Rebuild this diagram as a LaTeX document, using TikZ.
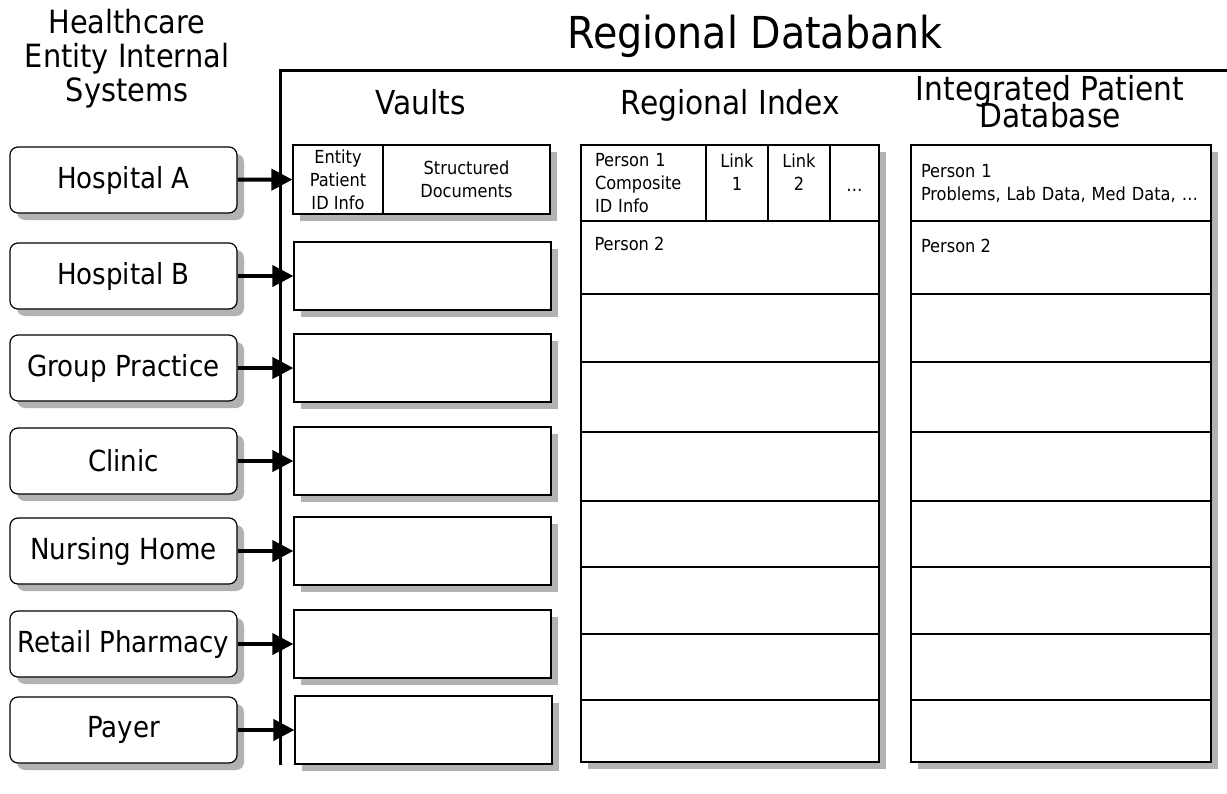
\documentclass[tikz,border=0pt]{standalone}
\usepackage{fontspec}
\setmainfont{DejaVu Sans Condensed}
\usepackage{tikz}
\usetikzlibrary{positioning,shadows,arrows.meta}

\begin{document}
\begin{tikzpicture}[x=1pt,y=-1pt,
boxshadow/.style={drop shadow={shadow xshift=7pt,shadow yshift=-7pt,fill=black!30,opacity=1}},
source/.style={draw,rounded corners=8pt,fill=white,boxshadow,line width=1.2pt,minimum width=227pt,minimum height=66pt,inner sep=0pt,font=\fontsize{29}{32}\selectfont},
vault/.style={draw,fill=white,boxshadow,line width=1.2pt,minimum width=257pt,minimum height=68pt},
cell/.style={draw,fill=white,boxshadow,line width=1.2pt,inner sep=0pt,align=center,font=\fontsize{18}{23}\selectfont},
small/.style={inner sep=0pt,align=left,font=\fontsize{18}{23}\selectfont},
head/.style={inner sep=0pt,align=center,font={\fontsize{33}{34}\selectfont\lineskiplimit=-50pt}},
feed/.style={line width=4pt,-{Triangle[length=21pt,width=21pt]}}]
\useasboundingbox (0,0) rectangle (1227,793);
\draw[line width=3pt] (280,765) -- (280,70) -- (1227,70);
\node (bank) [inner sep=0pt,anchor=base,font=\fontsize{44}{48}\selectfont] at (755,48) {Regional Databank};
\node (ents) [head,anchor=north,font=\fontsize{32}{34}\selectfont] at (127,9) {Healthcare\\Entity Internal\\Systems};
\node (vlt) [head,anchor=base] at (420.5,114) {Vaults};
\node (rix) [head,anchor=base] at (730.5,114) {Regional Index};
\node (ipd) [head,anchor=north,font={\fontsize{33}{27}\selectfont\lineskiplimit=-50pt}] at (1050,75) {Integrated Patient\\Database};
% entities
\node (hosa) [source] at (123.5,180) {Hospital A};
\node (hosb) [source] at (123.5,276) {Hospital B};
\node (grp) [source] at (123.5,368) {Group Practice};
\node (cln) [source] at (123.5,461) {Clinic};
\node (nrs) [source] at (123.5,551) {Nursing Home};
\node (rtl) [source] at (123.5,644) {Retail Pharmacy};
\node (pay) [source] at (123.5,730) {Payer};
% vaults
\node (vaulta1) [cell,minimum width=90pt,minimum height=69pt] at (338,179.5) {Entity\\Patient\\ID Info};
\node (vaulta2) [cell,minimum width=167pt,minimum height=69pt] at (466.5,179.5) {Structured\\Documents};
\node (vaultb) [vault] at (422.5,276) {};
\node (vaultc) [vault] at (422.5,368) {};
\node (vaultd) [vault] at (422.5,461) {};
\node (vaulte) [vault] at (422.5,551) {};
\node (vaultf) [vault] at (422.5,644) {};
\node (vaultg) [vault] at (423.5,730) {};
\draw[feed] (hosa) -- (vaulta1);
\draw[feed] (hosb) -- (vaultb);
\draw[feed] (grp) -- (vaultc);
\draw[feed] (cln) -- (vaultd);
\draw[feed] (nrs) -- (vaulte);
\draw[feed] (rtl) -- (vaultf);
\draw[feed] (pay) -- (vaultg);
% regional index
\node (idx1a) [cell,minimum height=76pt,text width=97pt,inner xsep=14pt,align=left] at (643.5,183) {Person 1\\Composite\\ID Info};
\node (idx1b) [cell,minimum width=62pt,minimum height=76pt] at (737,183) {};
\node (idx1c) [cell,minimum width=62pt,minimum height=76pt] at (799,183) {};
\node (idx1d) [cell,minimum width=49pt,minimum height=76pt] at (854.5,183) {};
\node (lnk1) [small,align=center,below=9.5pt of idx1b.north] {Link\\1};
\node (lnk2) [small,align=center,below=9.5pt of idx1c.north] {Link\\2};
\node (more) [small,anchor=base] at ([yshift=-8pt]idx1d.center) {…};
\node (idx2) [cell,minimum width=298pt,minimum height=73pt] at (730,257.5) {};
\node (idx3) [cell,minimum width=298pt,minimum height=68pt] at (730,328) {};
\node (idx4) [cell,minimum width=298pt,minimum height=70pt] at (730,397) {};
\node (idx5) [cell,minimum width=298pt,minimum height=69pt] at (730,466.5) {};
\node (idx6) [cell,minimum width=298pt,minimum height=66pt] at (730,534) {};
\node (idx7) [cell,minimum width=298pt,minimum height=67pt] at (730,600.5) {};
\node (idx8) [cell,minimum width=298pt,minimum height=66pt] at (730,667) {};
\node (idx9) [cell,minimum width=298pt,minimum height=62pt] at (730,731) {};
\node (per2) [small,below right=16.5pt and 14pt of idx2.north west] {Person 2};
% patient database
\node (db1) [cell,minimum height=76pt,text width=280pt,inner xsep=10pt,align=left] at (1061,183) {Person 1\\Problems, Lab Data, Med Data, …};
\node (db2) [cell,minimum width=300pt,minimum height=73pt] at (1061,257.5) {};
\node (db3) [cell,minimum width=300pt,minimum height=68pt] at (1061,328) {};
\node (db4) [cell,minimum width=300pt,minimum height=70pt] at (1061,397) {};
\node (db5) [cell,minimum width=300pt,minimum height=69pt] at (1061,466.5) {};
\node (db6) [cell,minimum width=300pt,minimum height=66pt] at (1061,534) {};
\node (db7) [cell,minimum width=300pt,minimum height=67pt] at (1061,600.5) {};
\node (db8) [cell,minimum width=300pt,minimum height=66pt] at (1061,667) {};
\node (db9) [cell,minimum width=300pt,minimum height=62pt] at (1061,731) {};
\node (dbper2) [small,below right=19pt and 10.5pt of db2.north west] {Person 2};
\end{tikzpicture}
\end{document}
